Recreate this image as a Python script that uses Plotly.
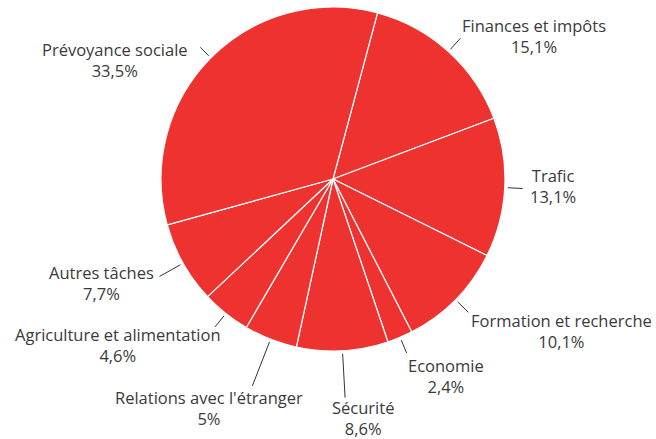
import math
import plotly.graph_objects as go

# ---- data ----
categories = ["Finances et impôts", "Trafic", "Formation et recherche", "Economie",
              "Sécurité", "Relations avec l'étranger", "Agriculture et alimentation",
              "Autres tâches", "Prévoyance sociale"]
shares = [15.1, 13.1, 10.1, 2.4, 8.6, 5.0, 4.6, 7.7, 33.5]
share_labels = ["15,1%", "13,1%", "10,1%", "2,4%", "8,6%", "5%", "4,6%", "7,7%", "33,5%"]

# ---- layout / style parameters ----
W, H = 656, 439
CX, CY, R = 333, 179, 172          # pie centre and radius in px
ROTATION = 15
RED = "#ee3230"
TEXT = "#3a3a3a"
FONT = "Open Sans"
FS = 16.5
leader_len = [15, 15, 15, 14, 44, 47, 14, 24, 12]
label_anchor = [("left", "middle", -1, 2), ("left", "middle", 5, 2), ("left", "top", 1, 5),
                ("left", "top", -1, 1), ("center", "top", 18, 4), ("center", "top", -43, 2),
                ("right", "top", 8, 6), ("right", "middle", -4, -7), ("right", "middle", -10, -13)]

fig = go.Figure(go.Pie(
    labels=categories, values=shares, sort=False, direction="clockwise",
    rotation=ROTATION, textinfo="none", hoverinfo="label+percent",
    marker=dict(colors=[RED] * len(shares), line=dict(color="white", width=1.2)),
    domain=dict(x=[(CX - R) / W, (CX + R) / W], y=[1 - (CY + R) / H, 1 - (CY - R) / H]),
    showlegend=False,
))

total = sum(shares)
start = ROTATION
shapes, annotations = [], []
for name, v, lab, L, (xa, ya, dx, dy) in zip(categories, shares, share_labels, leader_len, label_anchor):
    span = v / total * 360
    mid = math.radians(start + span / 2)
    start += span
    r0, r1 = R + 3, R + 3 + L
    x0, y0 = CX + r0 * math.sin(mid), CY - r0 * math.cos(mid)
    x1, y1 = CX + r1 * math.sin(mid), CY - r1 * math.cos(mid)
    shapes.append(dict(type="line", xref="paper", yref="paper",
                       x0=x0 / W, y0=1 - y0 / H, x1=x1 / W, y1=1 - y1 / H,
                       line=dict(color="#333333", width=1)))
    annotations.append(dict(xref="paper", yref="paper", x=x1 / W, y=1 - y1 / H,
                            text=f"{name}<br>{lab}", showarrow=False,
                            xanchor=xa, yanchor=ya, xshift=dx, yshift=dy, align="center",
                            font=dict(family=FONT, size=FS, color=TEXT)))

fig.update_layout(width=W, height=H, margin=dict(l=0, r=0, t=0, b=0),
                  paper_bgcolor="white", plot_bgcolor="white",
                  shapes=shapes, annotations=annotations)
fig.write_html("out.html", config={"displayModeBar": False},
               post_script="document.body.style.margin='0';")
